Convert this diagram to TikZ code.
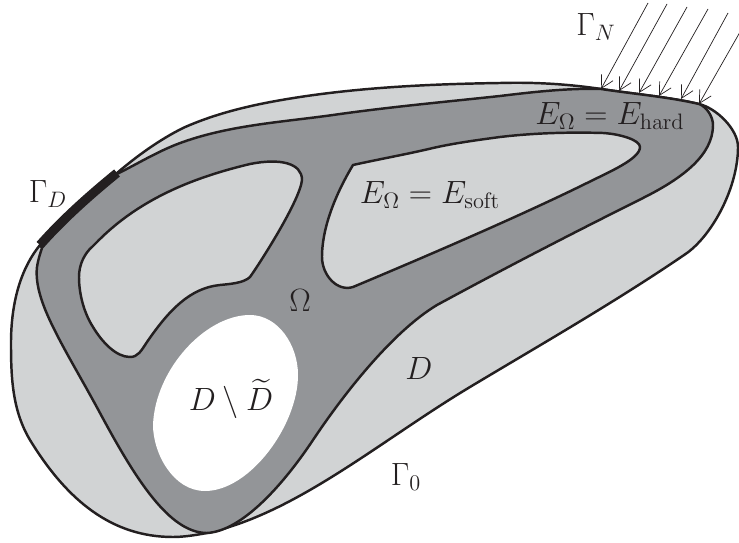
\documentclass[tikz,border=0pt]{standalone}
\usepackage{amsmath}
\usepackage{amssymb}
\usepackage{tikz}
\usetikzlibrary{arrows.meta}
\definecolor{softgray}{HTML}{D1D3D4}
\definecolor{hardgray}{HTML}{939598}
\definecolor{inkline}{HTML}{231F20}

\begin{document}
\begin{tikzpicture}[
  x=0.02cm, y=-0.02cm,
  Rim/.style={draw=inkline, line width=1.4pt, line join=round},
  Dfill/.style ={Rim, fill=softgray},
  Ofill/.style ={Rim, fill=hardgray},
  Hfill/.style ={Rim, fill=softgray},
  arr/.style={
    -{Straight Barb[length=7pt,width=7.5pt,line width=0.4pt]},
    draw=inkline, line width=0.4pt},
  lab/.style={font=\LARGE, scale=1.06, inner sep=0pt, text=inkline},
]
\useasboundingbox (0,0) rectangle (739,543);

%% DOMAIN D
\draw[Dfill] (117,173)
  .. controls +(20,-17) and +(-24,12) .. (183,128)
  .. controls +(38,-17) and +(-39,6) .. (300,97)
  .. controls +(66,-10) and +(-66,1) .. (500,83)
  .. controls +(33,-1) and +(-33,-5) .. (601,89)
  .. controls +(33,5) and +(-30,-7) .. (699,104)
  .. controls +(17,4) and +(0,-18) .. (738,147)
  .. controls +(0,40) and +(26,-19) .. (687,253)
  .. controls +(-70,48) and +(70,-42) .. (470,387)
  .. controls +(-90,54) and +(90,-20) .. (207,533)
  .. controls +(-11,2) and +(11,0) .. (173,537)
  .. controls +(-60,0) and +(38,62) .. (30,440)
  .. controls +(-18,-30) and +(0,33) .. (11,343)
  .. controls +(0,-34) and +(-22,27) .. (40,245)
  .. controls +(23,-26) and +(-27,22) .. (117,173) -- cycle;

%% STRUCTURE OMEGA
\draw[Ofill] (117,174)
  .. controls +(22,-11) and +(-23,8) .. (183,142)
  .. controls +(48,-17) and +(-50,7) .. (333,115)
  .. controls +(56,-8) and +(-56,6) .. (500,96)
  .. controls +(33,-4) and +(-33,-1) .. (601,89)
  .. controls +(33,5) and +(-30,-7) .. (699,104)
  .. controls +(8,3) and +(0,-8) .. (713,125)
  .. controls +(0,30) and +(40,-20) .. (643,198)
  .. controls +(-70,35) and +(70,-38) .. (437,305)
  .. controls +(-45,27) and +(30,-45) .. (313,440)
  .. controls +(-30,45) and +(35,-2) .. (207,533)
  .. controls +(-38,0) and +(35,65) .. (100,413)
  .. controls +(-35,-65) and +(-4,35) .. (37,267)
  .. controls +(1,-7) and +(-2,6) .. (42,248)
  -- (40,245)
  .. controls +(23,-26) and +(-27,22) .. (117,174) -- cycle;

%% SOFT REGIONS
\draw[Hfill] (97,242)
  .. controls +(45,-46) and +(-50,12) .. (250,164)
  .. controls +(30,-6) and +(0,-17) .. (302,180)
  .. controls +(-2,20) and +(12,-17) .. (250,277)
  .. controls +(-6,6) and +(10,-1) .. (220,285)
  .. controls +(-30,3) and +(22,-32) .. (147,342)
  .. controls +(-6,9) and +(8,0) .. (130,357)
  .. controls +(-14,0) and +(9,15) .. (93,327)
  .. controls +(-9,-14) and +(0,17) .. (79,277)
  .. controls +(0,-13) and +(-7,6) .. (92,247)
  -- cycle;
\draw[Hfill] (353,165)
  .. controls +(27,-6) and +(-25,6) .. (433,148)
  .. controls +(22,-5) and +(-22,3) .. (500,137)
  .. controls +(34,-4) and +(-34,-1) .. (603,133)
  .. controls +(17,1) and +(0,-7) .. (640,147)
  .. controls +(0,12) and +(22,-11) .. (587,183)
  .. controls +(-75,37) and +(50,-21) .. (353,287)
  .. controls +(-16,5) and +(0,18) .. (322,257)
  .. controls +(0,-35) and +(-12,20) .. (353,165) -- cycle;

%% HOLE
\fill[white] (250,315)
  .. controls +(28,0) and +(0,-30) .. (298,375)
  .. controls +(0,50) and +(45,0) .. (205,491)
  .. controls +(-32,0) and +(0,28) .. (153,425)
  .. controls +(2,-55) and +(-45,0) .. (250,315) -- cycle;

%% SUPPORT
\draw[inkline, line width=5.2pt] (40,245)
  .. controls +(23,-26) and +(-27,22) .. (117,173);

%% LOAD
\foreach \i/\sx/\sy/\tx/\ty in {
  1/648/3/601/89, 2/667/4/619/91, 3/687/7/639/93,
  4/708/9/659/96, 5/728/13/681/99, 6/740/32/699/104}{
  \coordinate (from\i) at (\sx,\sy);
  \coordinate (to\i) at (\tx,\ty);
  \draw[arr] (from\i) -- (to\i);
}

%% LABELS
\node[lab] (GN) at (596,27) {$\Gamma_N$};
\node[lab] (GD) at (48,194) {$\Gamma_D$};
\node[lab] (Eh) at (610,116) {$E_\Omega=E_{\mathrm{hard}}$};
\node[lab] (Es) at (430,195) {$E_\Omega=E_{\mathrm{soft}}$};
\node[lab] (Om) at (300,301) {$\Omega$};
\node[lab] (Dd) at (419,369) {$D$};
\node[lab] (DD) at (231,399) {$D\setminus\widetilde{D}$};
\node[lab] (G0) at (406,477) {$\Gamma_0$};

\end{tikzpicture}
\end{document}
